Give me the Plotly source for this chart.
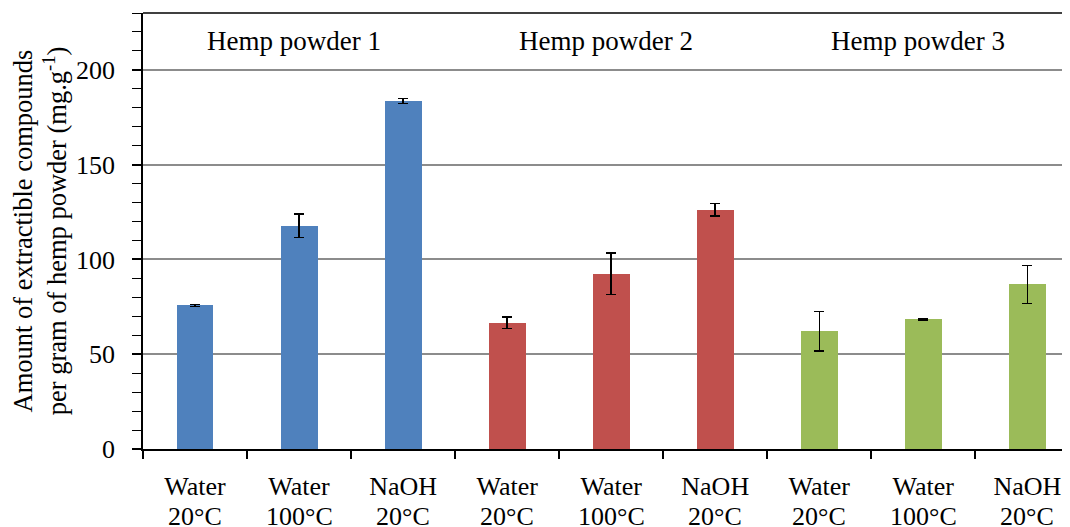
import plotly.graph_objects as go

solvents = ["Water", "Water", "NaOH", "Water", "Water", "NaOH", "Water", "Water", "NaOH"]
temps = ["20°C", "100°C", "20°C", "20°C", "100°C", "20°C", "20°C", "100°C", "20°C"]
amounts = [75.8, 117.8, 183.6, 66.6, 92.4, 126.2, 62.1, 68.5, 86.8]
errors = [0.5, 6.3, 1.4, 3.0, 11.0, 3.2, 10.5, 0.4, 10.0]
groups = ["Hemp powder 1", "Hemp powder 2", "Hemp powder 3"]
colors = ["#4F81BD", "#C0504D", "#9BBB59"]

FONT = "Liberation Serif, Times New Roman, serif"

xs = list(range(len(amounts)))
bar_colors = [colors[i // 3] for i in xs]

fig = go.Figure()
fig.add_trace(go.Bar(
    x=xs, y=amounts,
    marker=dict(color=bar_colors, line=dict(width=0)),
    width=0.355,
    error_y=dict(type="data", array=errors, visible=True,
                 color="black", thickness=1.5, width=5),
    showlegend=False,
))

for i, g in enumerate(groups):
    fig.add_annotation(x=3 * i + 1, y=215, xref="x", yref="y", text=g,
                       showarrow=False, xshift=-5,
                       font=dict(family=FONT, size=27, color="black"))

# second line of the category labels (tighter spacing than plotly's <br>)
for x, t in zip(xs, temps):
    fig.add_annotation(x=x, y=0, xref="x", yref="paper", text=t,
                       showarrow=False, yanchor="middle", yshift=-67,
                       font=dict(family=FONT, size=26, color="black"))

# top frame line
fig.add_shape(type="line", xref="paper", yref="paper", x0=0, x1=1, y0=1, y1=1,
              line=dict(color="black", width=1.5))

# page body has an 8px margin, so margins are offset to land the plot area right
fig.update_layout(
    width=1070, height=527,
    margin=dict(l=135, r=8, t=5, b=86),
    plot_bgcolor="white", paper_bgcolor="white",
    font=dict(family=FONT, size=24, color="black"),
    bargap=0,
)
fig.update_xaxes(
    range=[-0.5, 8.41], automargin=False,
    tickmode="array", tickvals=xs, ticktext=solvents,
    ticks="", ticklabelstandoff=13,
    showline=True, linecolor="black", linewidth=1.5,
    showgrid=False, zeroline=False,
    tickfont=dict(family=FONT, size=26),
    minor=dict(tickmode="array", tickvals=[x - 0.5 for x in xs] + [len(xs) - 0.5],
               ticks="outside", ticklen=8, tickcolor="black", tickwidth=1.5,
               showgrid=False),
)
fig.update_yaxes(
    range=[0, 230], automargin=False,
    tickmode="linear", tick0=0, dtick=50,
    ticks="outside", ticklen=9, tickcolor="black", tickwidth=1.5,
    showline=True, linecolor="black", linewidth=1.5,
    showgrid=True, gridcolor="#8c8c8c", gridwidth=1.5,
    zeroline=False, ticklabelstandoff=12,
    tickfont=dict(family=FONT, size=26),
    minor=dict(dtick=10, ticks="outside", ticklen=9, tickcolor="black",
               tickwidth=1.2, showgrid=False),
    title=dict(text="Amount of extractible compounds<br>per gram of hemp powder (mg.g<sup>-1</sup>)",
               font=dict(family=FONT, size=26.5), standoff=14),
)

fig.write_html("out.html")
